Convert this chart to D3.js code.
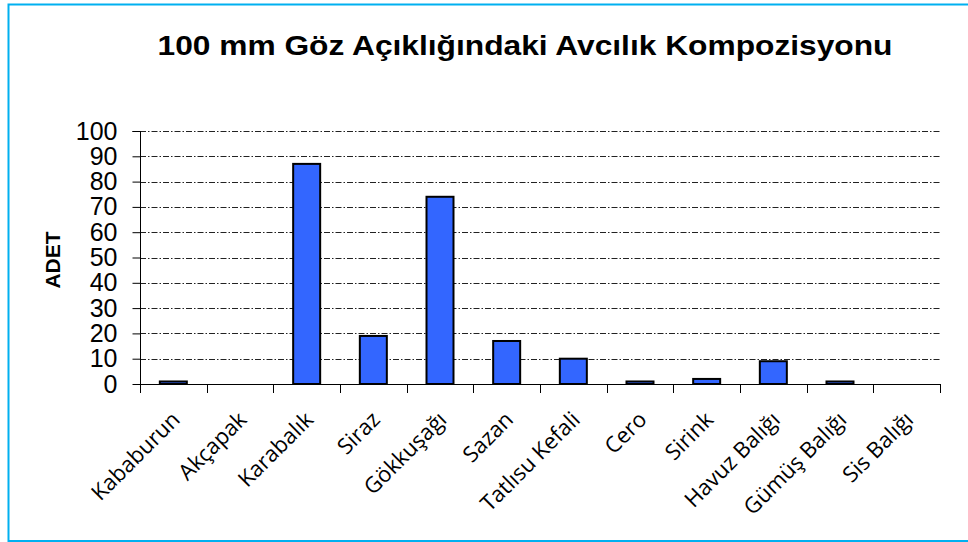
<!DOCTYPE html>
<html>
<head>
<meta charset="utf-8">
<script src="https://cdn.jsdelivr.net/npm/d3@7"></script>
<style>
  html, body { margin: 0; padding: 0; background: #fff; }
  svg { display: block; }
</style>
</head>
<body>
<svg id="chart" width="968" height="542"></svg>
<script>
const categories = ["Kababurun", "Akçapak", "Karabalık", "Siraz", "Gökkuşağı", "Sazan", "Tatlısu Kefali", "Cero", "Sirink", "Havuz Balığı", "Gümüş Balığı", "Sis Balığı"];
const values = [1, 0, 87, 19, 74, 17, 10, 1, 2, 9, 1, 0];
const yTicks = [0, 10, 20, 30, 40, 50, 60, 70, 80, 90, 100];
const title = "100 mm Göz Açıklığındaki Avcılık Kompozisyonu";
const yTitle = "ADET";

const svg = d3.select("#chart");

// frame
svg.append("rect")
  .attr("x", 8.5).attr("y", 4.5)
  .attr("width", 1000).attr("height", 536.5)
  .attr("fill", "none")
  .attr("stroke", "#00b0f0")
  .attr("stroke-width", 2);

const pLeft = 140, pRight = 940, pTop = 131, pBottom = 384;

const x = d3.scaleBand().domain(categories).range([pLeft, pRight]);
const y = d3.scaleLinear().domain([0, 100]).range([pBottom, pTop]);
const barW = 27;

// title
svg.append("text")
  .attr("x", 525).attr("y", 55)
  .attr("text-anchor", "middle")
  .attr("font-family", "Liberation Sans, Arial, sans-serif")
  .attr("font-weight", "bold")
  .attr("font-size", 28)
  .attr("textLength", 735)
  .attr("lengthAdjust", "spacingAndGlyphs")
  .text(title);

// gridlines
svg.append("g")
  .selectAll("line")
  .data(yTicks.filter(d => d > 0))
  .join("line")
  .attr("x1", pLeft).attr("x2", pRight)
  .attr("y1", d => Math.round(y(d)) + 0.5)
  .attr("y2", d => Math.round(y(d)) + 0.5)
  .attr("stroke", "#222")
  .attr("stroke-width", 1)
  .attr("stroke-dasharray", "6,2,1.5,2");

// y axis
const yAxis = d3.axisLeft(y).tickValues(yTicks).tickSize(8).tickPadding(15);
const gy = svg.append("g")
  .attr("transform", `translate(${pLeft + 0.5},0)`)
  .call(yAxis);
gy.select(".domain").attr("stroke", "#000").attr("d", `M-8,${pTop + 0.5}H0V${pBottom + 0.5}`);
gy.selectAll(".tick line").attr("stroke", "#000");
gy.selectAll(".tick text")
  .attr("font-family", "Liberation Sans, Arial, sans-serif")
  .attr("font-size", 25)
  .attr("fill", "#000");

// bars
svg.append("g")
  .selectAll("rect")
  .data(categories.map((c, i) => ({ c, v: values[i] })).filter(d => d.v > 0))
  .join("rect")
  .attr("x", d => x(d.c) + (x.bandwidth() - barW) / 2)
  .attr("width", barW)
  .attr("y", d => y(d.v))
  .attr("height", d => y(0) - y(d.v))
  .attr("fill", "#3366ff")
  .attr("stroke", "#000")
  .attr("stroke-width", 2);

// x axis
svg.append("line")
  .attr("x1", pLeft).attr("x2", pRight)
  .attr("y1", pBottom + 0.5).attr("y2", pBottom + 0.5)
  .attr("stroke", "#000");
const bounds = categories.map(c => x(c)).concat([pRight]);
svg.append("g")
  .selectAll("line")
  .data(bounds)
  .join("line")
  .attr("x1", d => Math.round(d) + 0.5).attr("x2", d => Math.round(d) + 0.5)
  .attr("y1", pBottom).attr("y2", pBottom + 9)
  .attr("stroke", "#000");

// x labels
svg.append("g")
  .selectAll("text")
  .data(categories)
  .join("text")
  .attr("transform", d => `translate(${x(d) + x.bandwidth() / 2 + 8},${pBottom + 37}) rotate(-45)`)
  .attr("text-anchor", "end")
  .attr("font-family", "Open Sans, Noto Sans, sans-serif")
  .attr("font-size", 22)
  .attr("fill", "#000")
  .text(d => d);

// y title
svg.append("text")
  .attr("transform", "translate(60,260) rotate(-90)")
  .attr("text-anchor", "middle")
  .attr("font-family", "Liberation Sans, Arial, sans-serif")
  .attr("font-weight", "bold")
  .attr("font-size", 21)
  .text(yTitle);
</script>
</body>
</html>
